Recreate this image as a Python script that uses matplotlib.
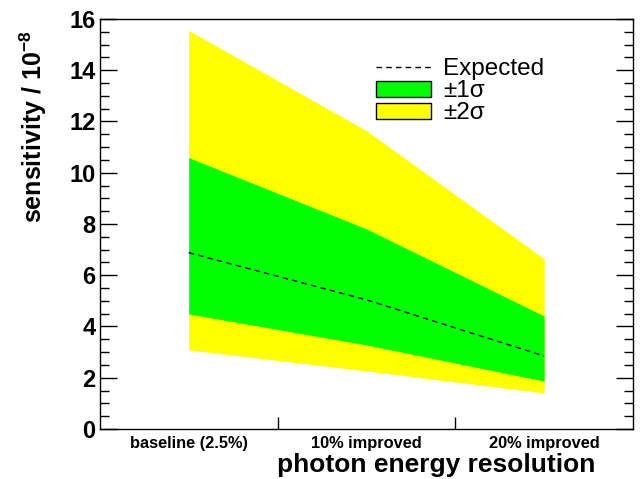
import numpy as np
import matplotlib
matplotlib.use("Agg")
import matplotlib.pyplot as plt
from matplotlib.patches import Patch
from matplotlib.lines import Line2D
from matplotlib.ticker import MultipleLocator, FixedLocator

plt.rcParams['font.family'] = ['Liberation Sans', 'DejaVu Sans']
plt.rcParams['mathtext.fontset'] = 'custom'
plt.rcParams['mathtext.rm'] = 'Liberation Sans'
plt.rcParams['mathtext.bf'] = 'Liberation Sans:bold'

# sensitivity (in units of 1e-8) per energy resolution scenario
categories = ["baseline (2.5%)", "10% improved", "20% improved"]
expected = [6.88, 5.04, 2.85]
minus_2sigma = [3.09, 2.27, 1.41]
minus_1sigma = [4.49, 3.28, 1.87]
plus_1sigma = [10.59, 7.81, 4.41]
plus_2sigma = [15.55, 11.64, 6.64]

x = np.arange(len(categories)) + 0.5

fig = plt.figure(figsize=(6.4, 4.79), dpi=100)
ax = fig.add_axes([0.156, 0.1044, 0.833, 0.856])

ax.fill_between(x, minus_2sigma, plus_2sigma, color='#ffff00', lw=0)
ax.fill_between(x, minus_1sigma, plus_1sigma, color='#00ff00', lw=0)
ax.plot(x, expected, color='black', lw=1, ls=(0, (4, 3)))

ax.set_xlim(0, 3)
ax.set_ylim(0, 16)

ax.xaxis.set_major_locator(FixedLocator(x))
ax.set_xticklabels(categories, fontsize=11.8, fontweight='bold')
ax.xaxis.set_minor_locator(FixedLocator([1, 2]))
ax.tick_params(axis='x', which='major', length=0, pad=5)
ax.tick_params(axis='x', which='minor', direction='in', length=9, width=1)

ax.yaxis.set_major_locator(MultipleLocator(2))
ax.yaxis.set_minor_locator(MultipleLocator(0.5))
ax.tick_params(axis='y', which='both', direction='in', right=True, width=1)
ax.tick_params(axis='y', which='major', length=12, labelsize=17, pad=3)
ax.tick_params(axis='y', which='minor', length=6.5)
for lab in ax.get_yticklabels():
    lab.set_fontweight('bold')

for sp in ax.spines.values():
    sp.set_linewidth(1)

ax.set_ylabel(r"sensitivity / 10$^{\mathbf{-8}}$", fontsize=18,
              fontweight='bold', loc='top')
ax.yaxis.set_label_coords(-0.095, 0.973)
ax.set_xlabel("photon energy resolution", fontsize=19, fontweight='bold',
              loc='right')
ax.xaxis.set_label_coords(0.93, -0.058)

handles = [
    Line2D([], [], color='black', lw=1, ls=(0, (4, 3))),
    Patch(facecolor='#00ff00', edgecolor='black', lw=1),
    Patch(facecolor='#ffff00', edgecolor='black', lw=1),
]
ax.legend(handles, ["Expected", "±1σ", "±2σ"],
          loc='upper left', bbox_to_anchor=(0.5, 0.928), frameon=False,
          fontsize=17.5, handlelength=2.26, handleheight=0.62,
          labelspacing=0.0, handletextpad=0.5, borderaxespad=0)

fig.savefig("out.png", dpi=100)
